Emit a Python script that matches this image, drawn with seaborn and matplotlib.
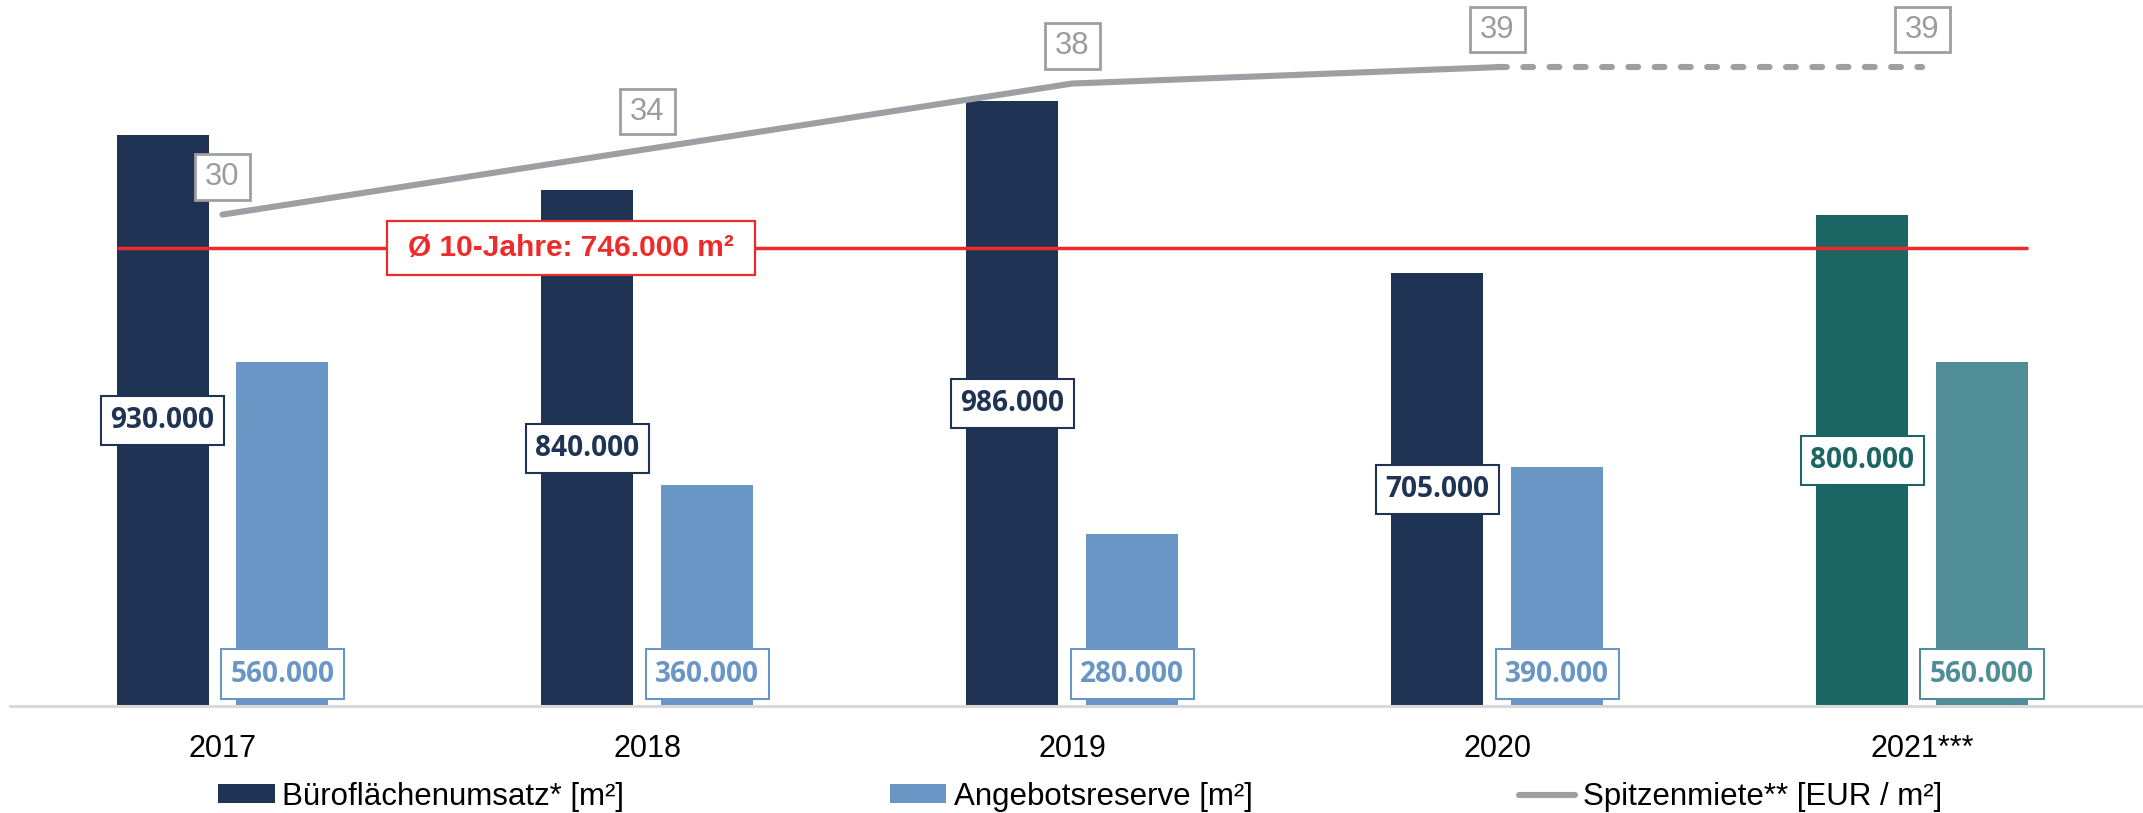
import numpy as np
import pandas as pd
import matplotlib
matplotlib.use("Agg")
import matplotlib.pyplot as plt
import seaborn as sns
from matplotlib.patches import Patch
from matplotlib.lines import Line2D
from matplotlib.path import Path

# ---------------- data ----------------
years = ["2017", "2018", "2019", "2020", "2021***"]
umsatz = [930000, 840000, 986000, 705000, 800000]
reserve = [560000, 360000, 280000, 390000, 560000]
miete = [30, 34, 38, 39, 39]
avg_10y = 746000
series_names = ["Büroflächenumsatz* [m²]", "Angebotsreserve [m²]",
                "Spitzenmiete** [EUR / m²]"]
avg_label = "Ø 10-Jahre: 746.000 m²"


def fmt(v):
    return f"{v:,.0f}".replace(",", ".")


def padded_box(padx, pady):
    def _box(x0, y0, width, height, mutation_size):
        px = padx * mutation_size
        py = pady * mutation_size
        xa, ya = x0 - px, y0 - py
        xb, yb = x0 + width + px, y0 + height + py
        return Path([(xa, ya), (xb, ya), (xb, yb), (xa, yb), (xa, ya)],
                    closed=True)
    return _box


NAVY = "#1F3354"
LBLUE = "#6A96C6"
TEAL = "#1B6665"
LTEAL = "#518D96"
RED = "#EE2B2B"
GRAY = "#9D9FA2"
LABELGRAY = "#9C9C9C"
AXGRAY = "#D9D9D9"

sns.set_theme(style="white")
plt.rcParams["font.family"] = ["Liberation Sans", "DejaVu Sans"]

W, H = 2143, 813
fig = plt.figure(figsize=(W / 100, H / 100), dpi=100)
fig.patch.set_facecolor("white")
ax = fig.add_axes([10 / W, 107 / H, 1 - 10 / W, 706 / H])

df = pd.DataFrame({
    "Jahr": years * 2,
    "Wert": umsatz + reserve,
    "Serie": [series_names[0]] * len(years) + [series_names[1]] * len(years),
})
sns.barplot(data=df, x="Jahr", y="Wert", hue="Serie",
            palette=[NAVY, LBLUE], width=0.564, gap=0.232, saturation=1,
            legend=False, ax=ax, linewidth=0, errorbar=None)

dark_bars = list(ax.containers[0])
light_bars = list(ax.containers[1])
dark_cols = [NAVY] * (len(years) - 1) + [TEAL]
light_cols = [LBLUE] * (len(years) - 1) + [LTEAL]
for b, c in zip(dark_bars, dark_cols):
    b.set_facecolor(c)
for b, c in zip(light_bars, light_cols):
    b.set_facecolor(c)

lab_font = ["Open Sans", "DejaVu Sans"]
lab_box = padded_box(0.34, 0.36)
for b, v, c in zip(dark_bars, umsatz, dark_cols):
    cx = b.get_x() + b.get_width() / 2
    ax.text(cx, b.get_height() / 2, fmt(v), ha="center", va="center",
            fontsize=20.2, fontweight="bold", family=lab_font, color=c,
            bbox=dict(boxstyle=lab_box, fc="white", ec=c, lw=1.5),
            zorder=6)
for b, v, c in zip(light_bars, reserve, light_cols):
    cx = b.get_x() + b.get_width() / 2
    ax.annotate(fmt(v), xy=(cx, 0), xytext=(0, 23), textcoords="offset points",
                ha="center", va="center", fontsize=20.2, fontweight="bold",
                family=lab_font, color=c,
                bbox=dict(boxstyle=lab_box, fc="white", ec=c, lw=1.5),
                zorder=6)

# 10-year average line
x0 = dark_bars[0].get_x()
x1 = light_bars[-1].get_x() + light_bars[-1].get_width()
ax.hlines(avg_10y, x0, x1, color=RED, lw=2.5, zorder=4)
ax.text(0.82, avg_10y, avg_label, ha="center", va="center", fontsize=21.5,
        fontweight="bold", color=RED, zorder=7,
        bbox=dict(boxstyle=padded_box(0.7, 0.45), fc="white", ec=RED, lw=1.6))

ax.set_xlim(-0.5, 4.52)
ax.set_ylim(0, 1.15e6)

# rent line on secondary axis
ax2 = ax.twinx()
sns.lineplot(x=years[:4], y=miete[:4], ax=ax2, color=GRAY, lw=4.4,
             solid_capstyle="round", sort=False)
sns.lineplot(x=years[3:], y=miete[3:], ax=ax2, color=GRAY, lw=4.4,
             linestyle=(0, (1.6, 2.7)), dash_capstyle="round", sort=False)
ax2.set_ylim(0, 43.1)
ax.set_xlim(-0.5, 4.52)

rent_box = padded_box(0.33, 0.25)
for i, v in enumerate(miete):
    ax2.annotate(str(v), xy=(i, v), xytext=(0, 27), textcoords="offset points",
                 ha="center", va="center", fontsize=22.3, color=LABELGRAY,
                 bbox=dict(boxstyle=rent_box, fc="white", ec=GRAY, lw=2))

# axes styling
for a in (ax, ax2):
    for s in ("top", "right", "left"):
        a.spines[s].set_visible(False)
    a.set_yticks([])
    a.set_ylabel("")
    a.set_xlabel("")
ax2.spines["bottom"].set_visible(False)
ax.spines["bottom"].set_color(AXGRAY)
ax.spines["bottom"].set_linewidth(2.2)
ax.set_xticks(range(len(years)), labels=years)
ax.tick_params(axis="x", length=0, pad=20, labelsize=22, labelcolor="black")
ax.grid(False)
ax2.grid(False)

handles = [Patch(fc=NAVY, lw=0), Patch(fc=LBLUE, lw=0),
           Line2D([], [], color=GRAY, lw=4.4, solid_capstyle="round")]
fig.legend(handles, series_names, loc="center", bbox_to_anchor=(0.504, 0.020),
           ncol=3, frameon=False, fontsize=22.5, handlelength=1.8,
           handleheight=0.55, handletextpad=0.25, columnspacing=8.5,
           labelcolor="black")

fig.savefig("out.png", dpi=100, facecolor="white")
